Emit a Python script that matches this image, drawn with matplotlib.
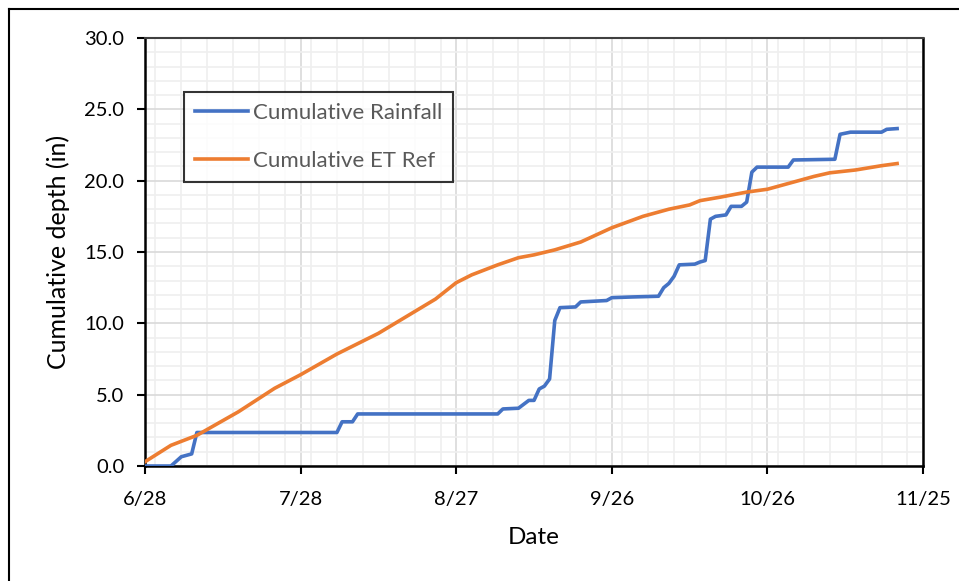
import datetime as dt
import matplotlib
matplotlib.use('Agg')
import matplotlib.pyplot as plt
import matplotlib.dates as mdates
from matplotlib.lines import Line2D
from matplotlib.ticker import MultipleLocator, FormatStrFormatter

# Data (days after 6/28, cumulative inches)
start = dt.date(2021, 6, 28)
rain_days = [0, 5, 7, 9, 10, 37, 38, 40, 41, 68, 69, 72, 74, 75, 76, 77, 78, 79, 80,
             83, 84, 89, 90, 94, 99, 100, 101, 102, 103, 106, 107, 108, 109, 110, 112,
             113, 115, 116, 117, 118, 124, 125, 133, 134, 136, 142, 143, 145]
rain_vals = [0, 0, 0.65, 0.85, 2.35, 2.35, 3.1, 3.1, 3.65, 3.65, 4.0, 4.05, 4.6, 4.6,
             5.4, 5.6, 6.1, 10.2, 11.1, 11.15, 11.5, 11.6, 11.8, 11.85, 11.9, 12.5,
             12.8, 13.3, 14.1, 14.15, 14.3, 14.4, 17.3, 17.5, 17.6, 18.2, 18.2, 18.5,
             20.6, 20.95, 20.95, 21.45, 21.5, 23.25, 23.4, 23.4, 23.6, 23.65]
et_days = [0, 5, 10, 18, 25, 30, 37, 45, 56, 60, 63, 68, 72, 75, 79, 84, 90, 96, 101,
           105, 107, 111, 116, 120, 125, 129, 132, 137, 142, 145]
et_vals = [0.3, 1.45, 2.15, 3.8, 5.45, 6.4, 7.85, 9.3, 11.7, 12.85, 13.4, 14.1, 14.6,
           14.8, 15.15, 15.7, 16.7, 17.5, 18.0, 18.3, 18.6, 18.85, 19.2, 19.4, 19.9,
           20.3, 20.55, 20.75, 21.05, 21.2]
tick_days = [0, 30, 60, 90, 120, 150]
tick_labels = ['6/28', '7/28', '8/27', '9/26', '10/26', '11/25']

rain_x = [start + dt.timedelta(days=d) for d in rain_days]
et_x = [start + dt.timedelta(days=d) for d in et_days]
tick_x = [start + dt.timedelta(days=d) for d in tick_days]

plt.rcParams['font.family'] = ['Lato', 'DejaVu Sans']

fig = plt.figure(figsize=(9.59, 5.81), dpi=100)
ax = fig.add_axes([0.1512, 0.1979, 0.8113, 0.7367])

ax.plot(rain_x, rain_vals, color='#4472C4', linewidth=2.6, label='Cumulative Rainfall',
        solid_joinstyle='round', zorder=3)
ax.plot(et_x, et_vals, color='#ED7D31', linewidth=2.6, label='Cumulative ET Ref',
        solid_joinstyle='round', zorder=3)

ax.set_xlim(tick_x[0], tick_x[-1])
ax.set_ylim(0, 30)
ax.set_xticks(tick_x)
ax.set_xticklabels(tick_labels)
ax.xaxis.set_minor_locator(mdates.DayLocator(interval=5))
ax.yaxis.set_major_locator(MultipleLocator(5))
ax.yaxis.set_minor_locator(MultipleLocator(1))
ax.yaxis.set_major_formatter(FormatStrFormatter('%.1f'))

ax.grid(which='major', color='#d9d9d9', linewidth=1.2)
ax.grid(which='minor', color='#efefef', linewidth=1.2)
ax.set_axisbelow(True)

ax.tick_params(which='major', direction='out', length=6, width=1.5, labelsize=14.5,
               color='black', pad=9)
ax.tick_params(which='minor', length=0)
ax.tick_params(axis='x', pad=12)
for s in ['left', 'bottom', 'right']:
    ax.spines[s].set_linewidth(1.8)
    ax.spines[s].set_color('black')
ax.spines['top'].set_linewidth(1.5)
ax.spines['top'].set_color('#404040')

ax.set_xlabel('Date', fontsize=17.5, labelpad=14)
ax.set_ylabel('Cumulative depth (in)', fontsize=18, labelpad=10)

leg = ax.legend(loc='upper left', bbox_to_anchor=(0.05, 0.874), borderaxespad=0,
                fontsize=16, frameon=True, fancybox=False, edgecolor='black',
                handlelength=2.4, labelspacing=1.25, borderpad=0.5, handletextpad=0.2)
leg.get_frame().set_linewidth(1.5)
for t in leg.get_texts():
    t.set_color('#595959')

# figure frame (left and top edges visible)
fig.add_artist(Line2D([0.0094, 0.0094], [0, 0.9845], color='black', linewidth=1.5,
                      transform=fig.transFigure))
fig.add_artist(Line2D([0.0094, 1.0], [0.9845, 0.9845], color='black', linewidth=1.5,
                      transform=fig.transFigure))

fig.savefig('out.png', dpi=100)
